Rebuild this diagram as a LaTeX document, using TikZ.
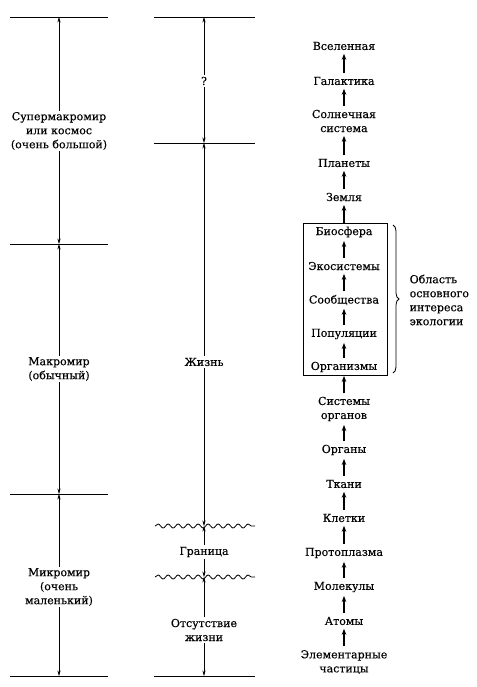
\documentclass[tikz,border=0pt]{standalone}
\usepackage{fontspec}
\setmainfont{DejaVu Serif}[BoldFont={DejaVu Serif}, BoldFeatures={FakeBold=0.3}]
\usetikzlibrary{arrows.meta, decorations.pathmorphing, decorations.pathreplacing}

\tikzset{
  lbl/.style={font=\fontsize{11}{14}\selectfont\bfseries, align=center, inner sep=1.5pt, fill=white},
  rung/.style={-{Stealth[length=6pt,width=4.5pt]}, line width=1.1pt, shorten >=2pt, shorten <=2pt},
  span/.style={{Stealth[length=5.5pt,width=3.2pt]}-{Stealth[length=5.5pt,width=3.2pt]}, line width=0.55pt},
  limit/.style={line width=0.8pt},
  wave/.style={line width=0.8pt, decorate, decoration={snake, segment length=10pt, amplitude=2pt}},
}

\begin{document}
\begin{tikzpicture}[x=1pt, y=-1pt]
  \useasboundingbox (0,0) rectangle (476,687);

  % scale of worlds
  \foreach \y in {17,244,494,676}
    \draw[limit] (10,\y) -- (108,\y);
  \coordinate (w0) at (59,17);
  \coordinate (w1) at (59,244);
  \coordinate (w2) at (59,494);
  \coordinate (w3) at (59,676);
  \draw[span] (w0) -- (w1);
  \draw[span] (w1) -- (w2);
  \draw[span] (w2) -- (w3);
  \node[lbl] (supermacro) at (59,131) {Супермакромир\\или космос\\(очень большой)};
  \node[lbl] (macro) at (59,369) {Макромир\\(обычный)};
  \node[lbl] (micro) at (59,587) {Микромир\\(очень\\маленький)};

  % life
  \foreach \y in {17,143,676}
    \draw[limit] (154,\y) -- (255,\y);
  \draw[wave] (155,526) -- (255,526);
  \draw[wave] (155,577) -- (255,577);
  \coordinate (v0) at (204,17);
  \coordinate (v1) at (204,143);
  \coordinate (v2) at (204,526);
  \coordinate (v3) at (204,577);
  \coordinate (v4) at (204,676);
  \draw[span] (v0) -- (v1);
  \draw[span] (v1) -- (v2);
  \draw[span] (v2) -- (v3);
  \draw[span] (v3) -- (v4);
  \node[lbl] (unknown) at (204,81) {?};
  \node[lbl] (life) at (204,362) {Жизнь};
  \node[lbl] (border) at (204,552) {Граница};
  \node[lbl] (nolife) at (204,630) {Отсутствие\\жизни};

  % levels of organisation
  \node[lbl] (univ)     at (344,46)  {Вселенная};
  \node[lbl] (galaxy)   at (344,81)  {Галактика};
  \node[lbl] (solar)    at (344,121) {Солнечная\\система};
  \node[lbl] (planets)  at (344,163) {Планеты};
  \node[lbl] (earth)    at (344,197) {Земля};
  \node[lbl] (biosph)   at (344,232) {Биосфера};
  \node[lbl] (ecosys)   at (344,266) {Экосистемы};
  \node[lbl] (commun)   at (344,300) {Сообщества};
  \node[lbl] (popul)    at (344,334) {Популяции};
  \node[lbl] (organism) at (344,367) {Организмы};
  \node[lbl] (orgsys)   at (344,409) {Системы\\органов};
  \node[lbl] (organs)   at (344,450) {Органы};
  \node[lbl] (tissue)   at (344,484) {Ткани};
  \node[lbl] (cells)    at (344,518) {Клетки};
  \node[lbl] (proto)    at (344,553) {Протоплазма};
  \node[lbl] (molec)    at (344,587) {Молекулы};
  \node[lbl] (atoms)    at (344,621) {Атомы};
  \node[lbl] (partic)   at (344,662) {Элементарные\\частицы};
  \foreach \a/\b in {partic/atoms, atoms/molec, molec/proto, proto/cells,
      cells/tissue, tissue/organs, organs/orgsys, orgsys/organism,
      organism/popul, popul/commun, commun/ecosys, ecosys/biosph,
      biosph/earth, earth/planets, planets/solar, solar/galaxy, galaxy/univ}
    \draw[rung] (\a) -- (\b);

  % ecology
  \draw[limit] (303,223) rectangle (387,375);
  \draw[limit, decorate, decoration={brace, amplitude=6pt}] (393,225) -- (393,373);
  \node[lbl, align=left, anchor=west] (ecology) at (408,300) {Область\\основного\\интереса\\экологии};
\end{tikzpicture}
\end{document}
